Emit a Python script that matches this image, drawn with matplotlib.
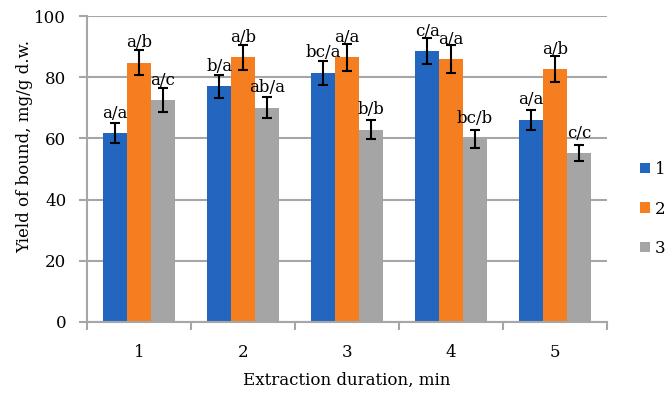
import numpy as np
import matplotlib.pyplot as plt

# données
durees = ["1", "2", "3", "4", "5"]
serie1 = [61.8, 77.0, 81.5, 88.6, 66.1]
serie2 = [84.8, 86.5, 86.5, 85.9, 82.7]
serie3 = [72.6, 70.1, 62.9, 59.9, 55.3]
err1 = [3.2, 3.8, 3.9, 4.4, 3.3]
err2 = [4.2, 4.0, 4.3, 4.5, 4.2]
err3 = [3.8, 3.4, 3.0, 2.9, 2.7]
lettres1 = ["a/a", "b/a", "bc/a", "c/a", "a/a"]
lettres2 = ["a/b", "a/b", "a/a", "a/a", "a/b"]
lettres3 = ["a/c", "ab/a", "b/b", "bc/b", "c/c"]
noms = ["1", "2", "3"]

plt.rcParams['font.family'] = ['DejaVu Serif']

couleurs = ["#2366C0", "#F47E20", "#A5A5A5"]
gris = "#A6A6A6"
taille = 12

fig = plt.figure(figsize=(6.65, 3.93), dpi=100)
ax = fig.add_axes([0.131, 0.181, 0.782, 0.778])

x = np.arange(len(durees))
largeur = 0.23

series = [serie1, serie2, serie3]
erreurs = [err1, err2, err3]
lettres = [lettres1, lettres2, lettres3]

for i in range(3):
    pos = x + (i - 1) * largeur
    ax.bar(pos, series[i], largeur, color=couleurs[i], label=noms[i], zorder=2)
    ax.errorbar(pos, series[i], yerr=erreurs[i], fmt='none', ecolor='black',
                elinewidth=1.5, capsize=3.5, capthick=1.5, zorder=3)
    for xi, yi, txt in zip(pos, series[i], lettres[i]):
        ax.annotate(txt, (xi, yi), xytext=(0, 11), textcoords='offset points',
                    ha='center', va='baseline', fontsize=taille, zorder=4)

ax.set_xlim(-0.5, len(durees) - 0.5)
ax.set_ylim(0, 100)
ax.set_yticks([0, 20, 40, 60, 80, 100])
ax.set_xticks(x)
ax.set_xticklabels(durees)
ax.set_xticks(np.arange(-0.5, len(durees)), minor=True)
ax.tick_params(axis='x', which='major', length=0, pad=16, labelsize=taille)
ax.tick_params(axis='x', which='minor', length=6, width=1.5, color=gris)
ax.tick_params(axis='y', length=6, width=1.5, color=gris, labelsize=taille, pad=9)

ax.grid(axis='y', color=gris, linewidth=1.5, zorder=0)
for cote in ['top', 'right']:
    ax.spines[cote].set_visible(False)
for cote in ['left', 'bottom']:
    ax.spines[cote].set_color(gris)
    ax.spines[cote].set_linewidth(1.5)

ax.set_xlabel("Extraction duration, min", fontsize=taille)
ax.xaxis.set_label_coords(0.5, -0.165)
ax.set_ylabel("Yield of bound, mg/g d.w.", fontsize=taille)
ax.yaxis.set_label_coords(-0.104, 0.575)

fig.legend(loc='center left', bbox_to_anchor=(0.962, 1 - 209 / 393),
           frameon=False, fontsize=taille, handlelength=0.6, handleheight=0.6,
           handletextpad=0.3, labelspacing=1.35, borderpad=0, borderaxespad=0)

plt.savefig("out.png", dpi=100)
plt.close()
